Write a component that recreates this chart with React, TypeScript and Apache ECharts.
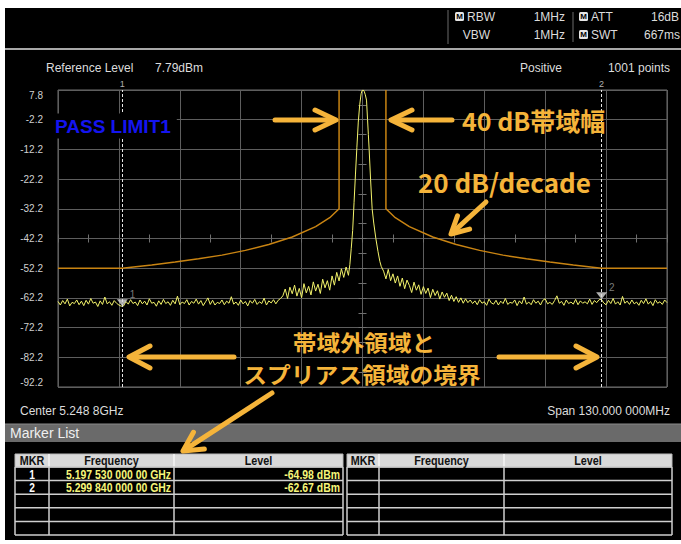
import React, { useEffect, useRef } from 'react';
import * as echarts from 'echarts';

// ---------------- data ----------------
const centerText = 'Center 5.248 8GHz';
const spanText = 'Span 130.000 000MHz';
const centerGHz = 5.2488;
const spanMHz = 130;
const xDivMHz = 13;
const yBottom = -92.2;
const yTop = 7.8;
const yDiv = 10;

const markerFreqGHz = [5.19753, 5.29984];
const markerLevelDbm = [-64.98, -62.67];

const limitLeftOffsetMHz = [-65, -51.3, -45, -40, -35, -30, -25, -20, -15, -10, -7, -5, -5];
const limitLeftLevel = [-52.2, -52.2, -51.1, -50.1, -49.0, -47.8, -46.2, -44.2, -41.7, -38.2, -35.2, -32.2, 7.8];
const limitRightOffsetMHz = [5, 5, 7, 10, 15, 20, 25, 30, 35, 40, 45, 51.0, 65];
const limitRightLevel = [7.8, -32.2, -35.2, -38.2, -41.7, -44.2, -46.2, -47.8, -49.0, -50.1, -51.1, -52.2, -52.2];

const traceStepMHz = 0.5;
const traceLeftStartMHz = -65;
const traceLeftLevel = [
  -63.4, -64.6, -63.1, -64.2, -62.6, -64.9, -63.7, -64.1, -62.9, -64.5, -63.3, -64.8,
  -63.0, -64.3, -62.4, -64.0, -63.6, -65.1, -63.2, -64.4, -61.9, -64.2, -63.5, -64.7,
  -63.1, -64.0, -64.6, -65.0, -64.9, -63.4, -64.3, -62.8, -64.1, -63.6, -64.8, -62.9,
  -64.2, -63.3, -64.6, -62.5, -64.0, -63.7, -65.0, -63.2, -64.4, -62.7, -64.1, -63.5,
  -64.7, -63.0, -64.2, -61.6, -64.5, -63.6, -64.1, -62.8, -64.6, -63.4, -64.0, -62.6,
  -64.3, -63.1, -64.8, -63.5, -62.2, -64.4, -63.0, -64.6, -63.7, -64.1, -62.9, -64.5,
  -63.3, -64.0, -61.8, -64.3, -63.6, -64.7, -62.9, -64.2, -63.4, -64.9, -63.1, -64.0,
  -62.7, -64.4, -63.5, -64.1, -62.3, -64.6, -63.2, -63.9, -62.8, -64.2, -63.0, -62.4,
  -61.5, -59.2, -62.4, -58.6, -60.8, -57.9, -61.6, -59.0, -62.1, -57.4, -60.5, -58.3,
  -61.2, -56.8, -59.9, -57.6, -60.7, -55.9, -58.8, -56.4, -59.6, -54.8, -57.9, -53.6,
  -56.5, -52.4, -55.3, -51.8,
];
const peakOffsetMHz = [-3.0, -2.7, -2.4, -2.1, -1.8, -1.5, -1.2, -0.9, -0.6, -0.3, -0.1, 0.15, 0.35, 0.6, 0.86, 1.08, 1.25, 1.42, 1.72, 2.06, 2.4, 2.85, 3.3, 3.7, 4.0];
const peakLevel = [-54.6, -51.0, -45.5, -39.5, -30.0, -20.5, -11.5, -3.0, 2.8, 6.5, 7.6, 7.8, 7.4, 6.2, 4.4, -2.2, -7.2, -12.2, -22.2, -32.2, -37.0, -42.2, -46.5, -49.9, -51.6];
const traceRightStartMHz = 4.5;
const traceRightLevel = [
  -53.2, -55.8, -52.6, -56.4, -54.1, -57.2, -54.8, -58.3, -55.5, -59.1, -56.2, -58.0,
  -60.4, -56.9, -59.6, -57.8, -61.0, -58.4, -60.7, -58.9, -62.1, -59.3, -61.4, -59.8,
  -62.6, -60.2, -62.0, -60.6, -63.1, -61.3, -63.4, -61.8, -63.7, -62.2, -64.0, -62.5,
  -63.8, -62.9,
  -64.1, -63.2, -64.5, -62.8, -64.0, -63.5, -64.7, -62.6, -63.9, -64.3, -63.0, -64.6,
  -63.3, -64.1, -62.4, -64.4, -63.7, -64.0, -62.9, -64.8, -63.2, -64.2, -61.9, -64.3,
  -63.6, -64.5, -62.8, -64.0, -63.3, -64.6, -63.0, -62.5, -64.2, -63.7, -64.4, -63.1,
  -61.5, -64.0, -63.4, -64.7, -62.9, -64.1, -63.6, -64.3, -62.7, -64.5, -63.2, -64.0,
  -63.5, -64.2, -62.6, -64.4, -63.1, -63.8, -62.8, -62.7, -63.9, -64.5, -63.0, -64.1,
  -62.4, -64.3, -63.5, -64.6, -61.7, -64.0, -63.3, -64.4, -62.9, -64.2, -63.6, -64.7,
  -63.0, -64.1, -62.5, -64.3, -63.4, -64.8, -62.8, -64.0, -63.5, -64.4, -62.9, -63.8,
];

const tableHeaders = ['MKR', 'Frequency', 'Level'];

// ---------------- helpers ----------------
const SANS = '"Liberation Sans", Arial, sans-serif';
const JP = '"Noto Sans CJK JP", "Noto Sans", sans-serif';
const ORANGE = '#f5b43a';
const GRID_C = '#5e5e5e';

function fmtFreq(g: number) {
  const s = g.toFixed(11);
  const [i, f] = s.split('.');
  const parts: string[] = [];
  for (let k = 0; k < f.length; k += 3) parts.push(f.slice(k, k + 3));
  return `${i}.${parts.join(' ')} GHz`;
}
function fmtLevel(v: number) {
  return `${v.toFixed(2)} dBm`;
}

function txt(x: number, y: number, text: string, opts: any = {}) {
  const style: any = {
    text,
    fill: opts.fill ?? '#dcdcdc',
    fontSize: opts.fontSize ?? 12,
    fontWeight: opts.fontWeight ?? 'normal',
    fontFamily: opts.fontFamily ?? SANS,
    align: opts.align ?? 'left',
    verticalAlign: 'middle',
  };
  if (opts.backgroundColor) style.backgroundColor = opts.backgroundColor;
  if (opts.padding) style.padding = opts.padding;
  if (opts.lineHeight) style.lineHeight = opts.lineHeight;
  return { type: 'text', x, y, z: opts.z ?? 80, scaleX: opts.scaleX ?? 1, style };
}
function ln(x1: number, y1: number, x2: number, y2: number, stroke: string, lineWidth = 1, z = 60) {
  return { type: 'line', z, shape: { x1, y1, x2, y2 }, style: { stroke, lineWidth } };
}
function rect(x: number, y: number, w: number, h: number, fill: string, z = 50, r = 0) {
  return { type: 'rect', z, shape: { x, y, width: w, height: h, r }, style: { fill } };
}
function mIcon(x: number, y: number) {
  return [
    rect(x, y, 9, 9, '#e6e6e6', 70, 1.5),
    txt(x + 4.5, y + 4.7, 'M', { fill: '#000', fontSize: 8, fontWeight: 'bold', align: 'center', z: 71 }),
  ];
}
function arrow(tail: number[], tip: number[], headLen = 20, headHalf = 10) {
  const dx = tip[0] - tail[0];
  const dy = tip[1] - tail[1];
  const L = Math.hypot(dx, dy);
  const ux = dx / L, uy = dy / L;
  const bx = tip[0] - ux * headLen, by = tip[1] - uy * headLen;
  const px = -uy * headHalf, py = ux * headHalf;
  const common = { stroke: ORANGE, lineWidth: 5, fill: null, lineCap: 'round', lineJoin: 'round' };
  return [
    { type: 'polyline', z: 90, shape: { points: [tail, [tip[0] - ux * 2, tip[1] - uy * 2]] }, style: { ...common } },
    { type: 'polyline', z: 90, shape: { points: [[bx + px, by + py], tip, [bx - px, by - py]] }, style: { ...common } },
  ];
}

function table(cols: number[], rows: string[][]) {
  const els: any[] = [];
  const hTop = 454, hBot = 467;
  const rowYs = [467, 480.6, 494.2, 507.8, 521.4, 535];
  els.push({ type: 'rect', z: 60, shape: { x: cols[0], y: hTop, width: cols[3] - cols[0], height: hBot - hTop }, style: { fill: '#d9d9d9', stroke: '#b8b8b8', lineWidth: 1 } });
  for (let i = 1; i < 3; i++) els.push(ln(cols[i], hTop, cols[i], hBot, '#f5f5f5', 1.5, 61));
  for (let i = 0; i < 3; i++) {
    els.push(txt((cols[i] + cols[i + 1]) / 2, (hTop + hBot) / 2 + 0.5, tableHeaders[i], { fill: '#111', fontSize: 12, fontWeight: 'bold', align: 'center', scaleX: 0.9, z: 62 }));
  }
  for (const y of rowYs) els.push(ln(cols[0], y, cols[3], y, '#cfcfcf', 1.5, 61));
  for (const x of cols) els.push(ln(x, hBot, x, rowYs[rowYs.length - 1], '#cfcfcf', 1.5, 61));
  rows.forEach((r, k) => {
    const yc = (rowYs[k] + rowYs[k + 1]) / 2 + 0.5;
    els.push(txt((cols[0] + cols[1]) / 2, yc, r[0], { fill: '#fff', fontWeight: 'bold', fontSize: 12, align: 'center', scaleX: 0.85, z: 62 }));
    els.push(txt(cols[2] - 3, yc, r[1], { fill: '#f6f67a', fontWeight: 'bold', fontSize: 12, align: 'right', scaleX: 0.87, z: 62 }));
    els.push(txt(cols[3] - 3, yc, r[2], { fill: '#f6f67a', fontWeight: 'bold', fontSize: 12, align: 'right', scaleX: 0.87, z: 62 }));
  });
  return els;
}

export default function App() {
  const ref = useRef<HTMLDivElement>(null);

  useEffect(() => {
    if (!ref.current) return;
    const chart = echarts.init(ref.current, undefined, { renderer: 'svg' });

    const traceData: number[][] = [];
    traceLeftLevel.forEach((v, i) => traceData.push([traceLeftStartMHz + i * traceStepMHz, v]));
    peakOffsetMHz.forEach((o, i) => traceData.push([o, peakLevel[i]]));
    traceRightLevel.forEach((v, i) => traceData.push([traceRightStartMHz + i * traceStepMHz, v]));

    const limitLeft = limitLeftOffsetMHz.map((o, i) => [o, limitLeftLevel[i]]);
    const limitRight = limitRightOffsetMHz.map((o, i) => [o, limitRightLevel[i]]);

    const markerOffsets = markerFreqGHz.map((g) => +((g - centerGHz) * 1000).toFixed(3));
    const markerData = markerOffsets.map((o, i) => [o, markerLevelDbm[i]]);

    const half = spanMHz / 2;

    const tickAxisX = (inside: boolean) => ({
      type: 'value', gridIndex: 0, min: -half, max: half, interval: xDivMHz / 2, position: 'bottom',
      axisLine: { show: false, onZero: true, onZeroAxisIndex: 1 },
      axisTick: { show: true, inside, length: 4, lineStyle: { color: '#707070' } },
      axisLabel: { show: false }, splitLine: { show: false },
    });
    const tickAxisY = (inside: boolean) => ({
      type: 'value', gridIndex: 0, min: yBottom, max: yTop, interval: yDiv / 2, position: 'left',
      axisLine: { show: false, onZero: true, onZeroAxisIndex: 0 },
      axisTick: { show: true, inside, length: 4, lineStyle: { color: '#707070' } },
      axisLabel: { show: false }, splitLine: { show: false },
    });

    const graphic: any[] = [
      // white page margins
      rect(0, 0, 681, 8, '#ffffff', 200),
      rect(0, 0, 5, 544, '#ffffff', 200),
      rect(0, 540, 681, 4, '#ffffff', 200),
      // header separators
      ln(448, 10, 448, 44, '#6a6a6a', 1),
      ln(573, 12, 573, 42, '#6a6a6a', 1),
      ln(5, 49, 681, 49, '#a8a8a8', 2),
      ...mIcon(455, 12),
      txt(467, 16.5, 'RBW'),
      txt(565, 16.5, '1MHz', { align: 'right' }),
      ...mIcon(579, 12),
      txt(591, 16.5, 'ATT'),
      txt(679, 16.5, '16dB', { align: 'right' }),
      txt(490, 34.5, 'VBW', { align: 'right' }),
      txt(565, 34.5, '1MHz', { align: 'right' }),
      ...mIcon(579, 30),
      txt(591, 34.5, 'SWT'),
      txt(680, 34.5, '667ms', { align: 'right' }),
      // settings line
      txt(46, 68, 'Reference Level'),
      txt(155, 68, '7.79dBm'),
      txt(520, 68, 'Positive'),
      txt(670, 68, '1001 points', { align: 'right' }),
      // PASS LIMIT
      txt(53, 126, 'PASS LIMIT1', { fill: '#1414f0', fontSize: 19, fontWeight: 'bold', backgroundColor: '#000', padding: [3, 6, 3, 2], z: 70 }),
      // footer
      txt(20, 411, centerText),
      txt(670, 411, spanText, { align: 'right' }),
      rect(5, 424, 676, 18, '#6a6a6a', 50),
      ln(5, 424, 681, 424, '#8a8a8a', 1),
      txt(10, 433, 'Marker List', { fill: '#f0f0f0', fontSize: 14, scaleX: 1 }),
      ...table([15, 49, 174, 343], markerFreqGHz.map((g, i) => [String(i + 1), fmtFreq(g), fmtLevel(markerLevelDbm[i])])),
      ...table([347, 379, 504, 672], []),
      // annotations
      ...arrow([275, 120], [336, 120], 21, 10),
      ...arrow([452, 120], [391, 120], 21, 10),
      txt(462, 120, '40 dB帯域幅', { fill: ORANGE, fontSize: 25, fontWeight: 'bold', fontFamily: JP, z: 90 }),
      txt(418, 181, '20 dB/decade', { fill: ORANGE, fontSize: 26, fontWeight: 'bold', fontFamily: JP, z: 90 }),
      ...arrow([486, 202], [451, 234], 17, 9),
      ...arrow([234, 357], [129, 357], 21, 11),
      ...arrow([499, 357], [597, 357], 21, 11),
      txt(364, 341.5, '帯域外領域と', { fill: ORANGE, fontSize: 22, fontWeight: 'bold', fontFamily: JP, align: 'center', lineHeight: 22, scaleX: 1.08, z: 90 }),
      txt(362, 373.5, 'スプリアス領域の境界', { fill: ORANGE, fontSize: 22, fontWeight: 'bold', fontFamily: JP, align: 'center', lineHeight: 22, scaleX: 1.08, z: 90 }),
      ...arrow([272, 393], [183, 451], 19, 10),
    ];

    chart.setOption({
      animation: false,
      backgroundColor: '#000',
      grid: { left: 58, top: 90, width: 609, height: 297, show: true, borderColor: '#6e6e6e', borderWidth: 1, backgroundColor: 'transparent' },
      xAxis: [
        {
          type: 'value', gridIndex: 0, min: -half, max: half, interval: xDivMHz,
          axisLine: { show: false, onZero: false }, axisTick: { show: false }, axisLabel: { show: false },
          splitLine: { show: true, lineStyle: { color: GRID_C, width: 1 } },
        },
        tickAxisX(true),
        tickAxisX(false),
      ],
      yAxis: [
        {
          type: 'value', gridIndex: 0, min: yBottom, max: yTop, interval: yDiv,
          axisLine: { show: false, onZero: false }, axisTick: { show: false },
          axisLabel: {
            color: '#d0d0d0', fontSize: 10, fontFamily: SANS, margin: 15,
            formatter: (v: number) => v.toFixed(1),
            verticalAlignMaxLabel: 'top', verticalAlignMinLabel: 'bottom',
          },
          splitLine: { show: true, lineStyle: { color: GRID_C, width: 1 } },
        },
        { type: 'value', gridIndex: 0, min: -50, max: 50, show: false, axisLine: { onZero: false } },
        tickAxisY(true),
        tickAxisY(false),
      ],
      series: [
        { type: 'line', data: limitLeft, xAxisIndex: 0, yAxisIndex: 0, symbol: 'none', silent: true, lineStyle: { color: '#c98412', width: 1.5 }, z: 3 },
        { type: 'line', data: limitRight, xAxisIndex: 0, yAxisIndex: 0, symbol: 'none', silent: true, lineStyle: { color: '#c98412', width: 1.5 }, z: 3 },
        { type: 'line', data: traceData, xAxisIndex: 0, yAxisIndex: 0, symbol: 'none', silent: true, lineStyle: { color: '#f3f36b', width: 1 }, z: 4 },
        {
          type: 'scatter', data: markerData, xAxisIndex: 0, yAxisIndex: 0, silent: true,
          symbol: 'triangle', symbolRotate: 180, symbolSize: [11, 7], symbolOffset: [0, '-50%'],
          itemStyle: { color: '#dcdcdc' },
          label: { show: true, position: 'right', distance: 2, offset: [0, -8], color: '#9a9a9a', fontSize: 10, fontFamily: SANS, formatter: (p: any) => String(p.dataIndex + 1) },
          markLine: {
            silent: true, symbol: ['none', 'none'],
            lineStyle: { color: '#e6e6e6', width: 1, type: [3, 2] },
            label: { show: true, position: 'end', distance: 2, color: '#b0b0b0', fontSize: 9, fontFamily: SANS, formatter: '{b}' },
            data: markerOffsets.map((o, i) => ({ xAxis: o, name: String(i + 1) })),
          },
          z: 6,
        },
      ],
      graphic,
    });

    return () => chart.dispose();
  }, []);

  return <div ref={ref} style={{ position: 'absolute', left: 0, top: 0, width: 681, height: 544 }} />;
}
